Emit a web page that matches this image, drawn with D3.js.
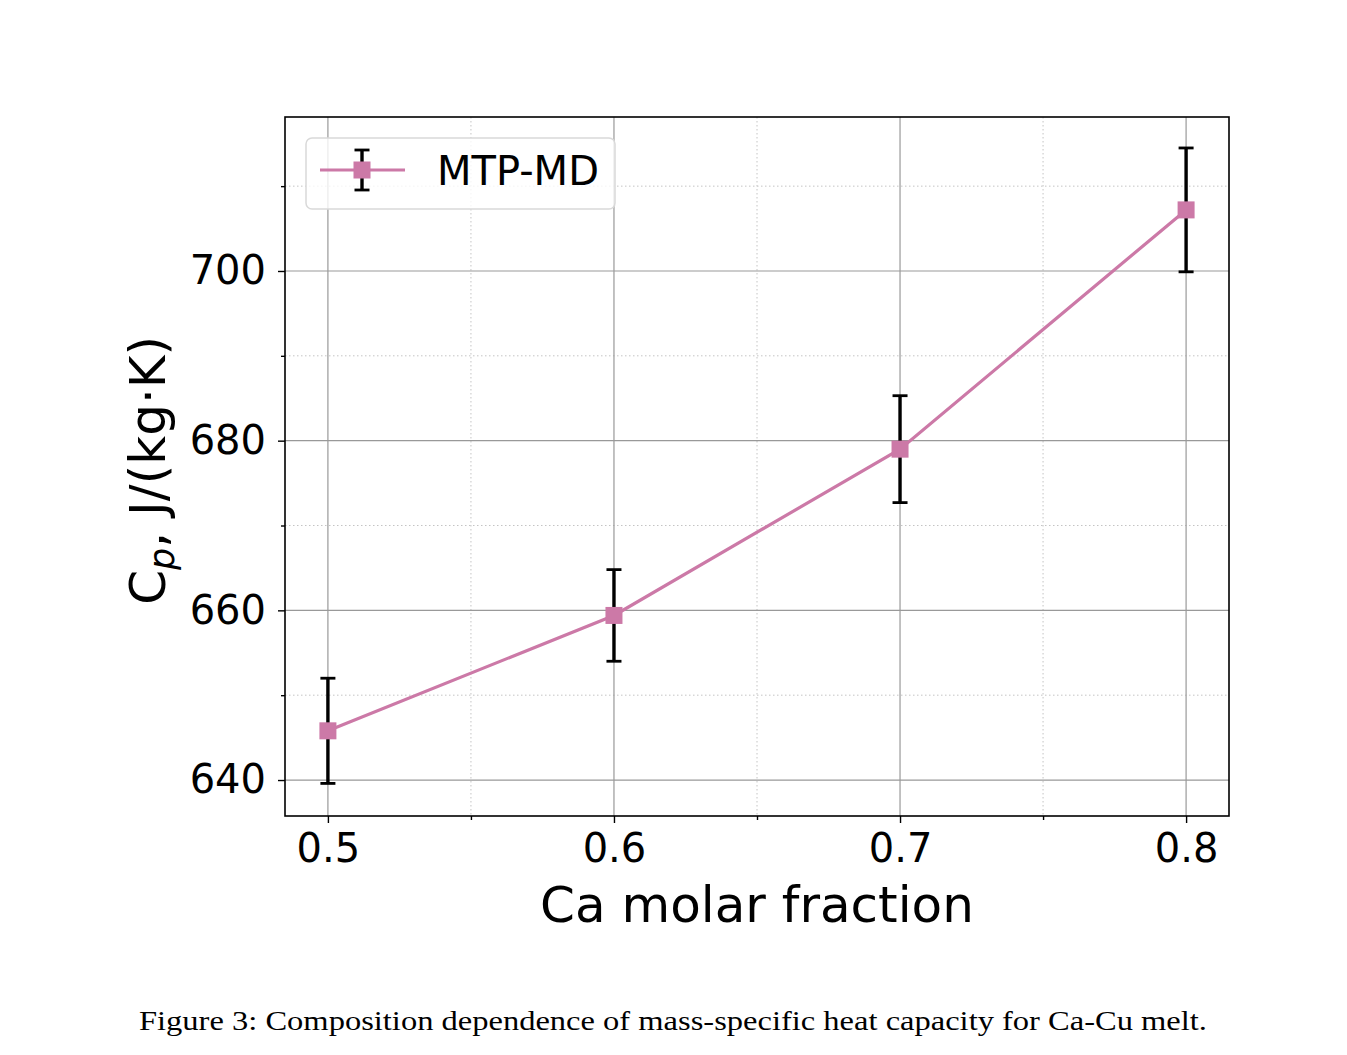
<!DOCTYPE html>
<html lang="en">
<head>
  <meta charset="UTF-8">
  <title>Composition dependence of heat capacity</title>
  <script src="https://d3js.org/d3.v7.min.js"></script>
  <style>
    body { margin: 0; padding: 0; background: #fff; }
    svg { display: block; }
    .tick text { font-family: "DejaVu Sans", sans-serif; }
  </style>
</head>
<body>
  <div id="chart"></div>
  <script>
    // data
    const fractions = [0.5, 0.6, 0.7, 0.8];
    const cp = [645.8, 659.4, 679.0, 707.2];
    const cpErr = [6.2, 5.4, 6.3, 7.3];
    const xMajor = [0.5, 0.6, 0.7, 0.8];
    const xMinor = [0.55, 0.65, 0.75];
    const yMajor = [640, 660, 680, 700];
    const yMinor = [650, 670, 690, 710];

    const width = 1347, height = 1055;
    const margin = { left: 285, right: 118, top: 117, bottom: 239 };
    const color = "#cc79a7";

    const svg = d3.select("#chart").append("svg")
      .attr("width", width)
      .attr("height", height);

    const x = d3.scaleLinear()
      .domain([0.485, 0.815])
      .range([margin.left, width - margin.right]);
    const y = d3.scaleLinear()
      .domain([635.76, 718.15])
      .range([height - margin.bottom, margin.top]);

    const plot = svg.append("g");

    // minor grid (dotted)
    plot.append("g").selectAll("line")
      .data(xMinor).join("line")
      .attr("x1", d => x(d)).attr("x2", d => x(d))
      .attr("y1", margin.top).attr("y2", height - margin.bottom)
      .attr("stroke", "#c4c4c4").attr("stroke-width", 1)
      .attr("stroke-dasharray", "1.5,2.5");
    plot.append("g").selectAll("line")
      .data(yMinor).join("line")
      .attr("x1", margin.left).attr("x2", width - margin.right)
      .attr("y1", d => y(d)).attr("y2", d => y(d))
      .attr("stroke", "#c4c4c4").attr("stroke-width", 1)
      .attr("stroke-dasharray", "1.5,2.5");

    // major grid
    plot.append("g").selectAll("line")
      .data(xMajor).join("line")
      .attr("x1", d => x(d)).attr("x2", d => x(d))
      .attr("y1", margin.top).attr("y2", height - margin.bottom)
      .attr("stroke", "#999").attr("stroke-width", 1.2);
    plot.append("g").selectAll("line")
      .data(yMajor).join("line")
      .attr("x1", margin.left).attr("x2", width - margin.right)
      .attr("y1", d => y(d)).attr("y2", d => y(d))
      .attr("stroke", "#999").attr("stroke-width", 1.2);

    // axes
    const xAxis = d3.axisBottom(x).tickValues(xMajor).tickFormat(d3.format(".1f"))
      .tickSize(7).tickPadding(11);
    const yAxis = d3.axisLeft(y).tickValues(yMajor).tickFormat(d3.format("d"))
      .tickSize(7).tickPadding(12);

    const gx = svg.append("g")
      .attr("transform", `translate(0,${height - margin.bottom})`)
      .call(xAxis);
    gx.append("g").call(d3.axisBottom(x).tickValues(xMinor).tickSize(4).tickFormat(""));

    const gy = svg.append("g")
      .attr("transform", `translate(${margin.left},0)`)
      .call(yAxis);
    gy.append("g").call(d3.axisLeft(y).tickValues(yMinor).tickSize(4).tickFormat(""));

    [gx, gy].forEach(g => {
      g.selectAll(".domain").remove();
      g.selectAll(".tick line").attr("stroke", "#000").attr("stroke-width", 1.4);
      g.selectAll(".tick text").attr("font-size", 40).attr("fill", "#000");
    });

    // frame
    svg.append("rect")
      .attr("x", margin.left).attr("y", margin.top)
      .attr("width", width - margin.left - margin.right)
      .attr("height", height - margin.top - margin.bottom)
      .attr("fill", "none").attr("stroke", "#000").attr("stroke-width", 1.6);

    const pts = fractions.map((f, i) => ({ x: f, y: cp[i], e: cpErr[i] }));

    // error bars
    const eb = svg.append("g").attr("stroke", "#000").attr("stroke-width", 3.4);
    eb.selectAll("line.v").data(pts).join("line")
      .attr("x1", d => x(d.x)).attr("x2", d => x(d.x))
      .attr("y1", d => y(d.y - d.e)).attr("y2", d => y(d.y + d.e));
    eb.selectAll("line.t").data(pts).join("line")
      .attr("x1", d => x(d.x) - 7.5).attr("x2", d => x(d.x) + 7.5)
      .attr("y1", d => y(d.y + d.e)).attr("y2", d => y(d.y + d.e))
      .attr("stroke-width", 2.8);
    eb.selectAll("line.b").data(pts).join("line")
      .attr("x1", d => x(d.x) - 7.5).attr("x2", d => x(d.x) + 7.5)
      .attr("y1", d => y(d.y - d.e)).attr("y2", d => y(d.y - d.e))
      .attr("stroke-width", 2.8);

    // line
    svg.append("path")
      .datum(pts)
      .attr("fill", "none")
      .attr("stroke", color)
      .attr("stroke-width", 3.2)
      .attr("d", d3.line().x(d => x(d.x)).y(d => y(d.y)));

    // markers
    const ms = 17;
    svg.append("g").selectAll("rect").data(pts).join("rect")
      .attr("x", d => x(d.x) - ms / 2).attr("y", d => y(d.y) - ms / 2)
      .attr("width", ms).attr("height", ms)
      .attr("fill", color);

    // legend
    const lg = svg.append("g");
    lg.append("rect")
      .attr("x", 306).attr("y", 138).attr("width", 309).attr("height", 71)
      .attr("rx", 6)
      .attr("fill", "#fff").attr("fill-opacity", 0.8)
      .attr("stroke", "#d9d9d9").attr("stroke-width", 1.5);
    lg.append("line")
      .attr("x1", 320).attr("x2", 405).attr("y1", 170).attr("y2", 170)
      .attr("stroke", color).attr("stroke-width", 3.2);
    lg.append("line")
      .attr("x1", 362).attr("x2", 362).attr("y1", 150).attr("y2", 190)
      .attr("stroke", "#000").attr("stroke-width", 3.4);
    [150, 190].forEach(v => lg.append("line")
      .attr("x1", 354.5).attr("x2", 369.5).attr("y1", v).attr("y2", v)
      .attr("stroke", "#000").attr("stroke-width", 2.8));
    lg.append("rect")
      .attr("x", 362 - ms / 2).attr("y", 170 - ms / 2)
      .attr("width", ms).attr("height", ms).attr("fill", color);
    lg.append("text")
      .attr("x", 437).attr("y", 185)
      .attr("font-family", "DejaVu Sans, sans-serif")
      .attr("font-size", 40)
      .text("MTP-MD");

    // axis labels
    svg.append("text")
      .attr("x", x(0.65)).attr("y", 922)
      .attr("text-anchor", "middle")
      .attr("font-family", "DejaVu Sans, sans-serif")
      .attr("font-size", 50)
      .text("Ca molar fraction");

    const yl = svg.append("text")
      .attr("transform", `translate(165,${y(676.5)}) rotate(-90)`)
      .attr("text-anchor", "middle")
      .attr("font-family", "DejaVu Sans, sans-serif")
      .attr("font-size", 50);
    yl.append("tspan").text("C");
    yl.append("tspan").attr("font-size", 35).attr("font-style", "italic")
      .attr("dy", 9).text("p");
    yl.append("tspan").attr("dy", -9).text(", J/(kg·K)");

    // caption
    svg.append("text")
      .attr("x", 673).attr("y", 1030)
      .attr("text-anchor", "middle")
      .attr("font-family", "Liberation Serif, serif")
      .attr("font-size", 27)
      .attr("textLength", 1068)
      .attr("lengthAdjust", "spacingAndGlyphs")
      .text("Figure 3: Composition dependence of mass-specific heat capacity for Ca-Cu melt.");
  </script>
</body>
</html>
